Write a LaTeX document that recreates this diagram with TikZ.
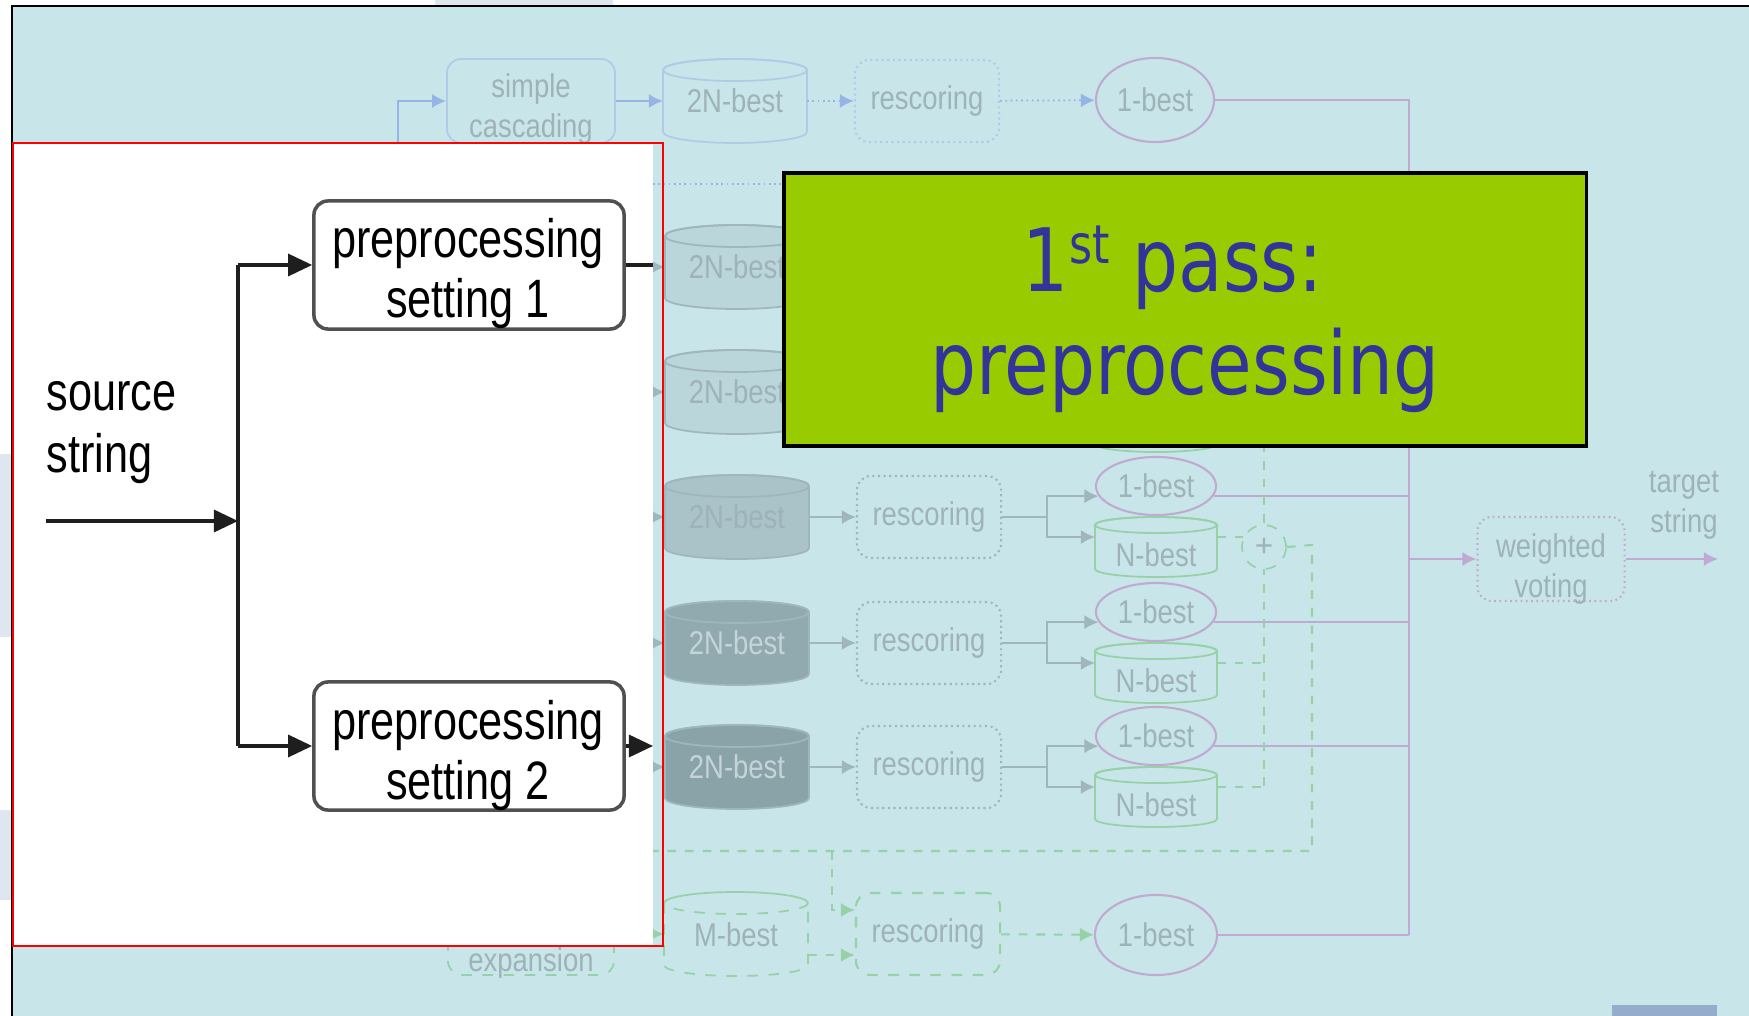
\documentclass[tikz,border=0pt]{standalone}
\usepackage{fontspec}
\setmainfont{Liberation Sans}
\newfontfamily\dejavu{DejaVu Sans}
\usepackage{graphicx}
\usetikzlibrary{arrows.meta,calc,shapes.geometric}
\definecolor{bgc}{RGB}{200,230,233}
\definecolor{fadetxt}{RGB}{158,178,183}
\definecolor{fadelt}{RGB}{196,212,216}
\definecolor{fadegrey}{RGB}{160,182,188}
\definecolor{fadeblue}{RGB}{150,180,230}
\definecolor{fadeblueb}{RGB}{176,203,232}
\definecolor{fadepurp}{RGB}{192,170,210}
\definecolor{fadegreen}{RGB}{150,210,165}
\definecolor{cylA}{RGB}{186,214,219}
\definecolor{cylB}{RGB}{170,195,200}
\definecolor{cylC}{RGB}{145,170,175}
\definecolor{cylD}{RGB}{138,163,168}
\definecolor{gbox}{RGB}{153,204,0}
\definecolor{gtext}{RGB}{51,51,153}
\definecolor{patch}{RGB}{222,230,240}
\definecolor{bcol}{RGB}{30,30,30}
\definecolor{pborder}{RGB}{80,80,80}
\definecolor{stripc}{RGB}{150,172,205}
\newcommand\vs[1]{\scalebox{1}[1.2]{#1}}
\newcommand\bs[1]{\scalebox{1}[1.25]{#1}}
% cylinder: name, cx, cy, half width, half height, ellipse ry, style
\newcommand\cyl[7]{%
  \path[#7] (#2-#4,#3-#5+#6) -- (#2-#4,#3+#5-#6)
     arc[start angle=180,end angle=0,x radius=#4,y radius=#6]
     -- (#2+#4,#3-#5+#6)
     arc[start angle=0,end angle=-180,x radius=#4,y radius=#6] -- cycle;
  \path[#7,fill=none] (#2,#3-#5+#6) ellipse[x radius=#4,y radius=#6];
  \node[inner sep=0,outer sep=0,minimum width={#4*0.02cm},minimum height={#5*0.02cm}] (#1) at (#2,#3) {};
}
\begin{document}
\begin{tikzpicture}[x=0.01cm,y=-0.01cm,
  fadetext/.style={text=fadetxt,font=\fontsize{7.8}{11.5}\selectfont,inner sep=0,align=center},
  fadebox/.style={fadetext,rounded corners=4pt,line width=0.5pt},
  resbox/.style={fadetext,draw=fadegrey,densely dotted,rounded corners=4pt,line width=0.6pt,minimum width=1.44cm,minimum height=0.82cm},
  bestell/.style={fadetext,ellipse,draw=fadepurp,line width=0.6pt},
  fadearrow/.style={draw=fadegrey,line width=0.5pt,-{Latex[length=4pt,width=4pt]}},
  fadeline/.style={draw=fadegrey,line width=0.5pt},
  bluearrow/.style={draw=fadeblue,line width=0.5pt,-{Latex[length=4pt,width=4pt]}},
  purpline/.style={draw=fadepurp,line width=0.6pt},
  purparrow/.style={draw=fadepurp,line width=0.6pt,-{Latex[length=4pt,width=4pt]}},
  gdash/.style={draw=fadegreen,line width=0.6pt,dash pattern=on 2.5pt off 2.5pt},
  garrow/.style={gdash,-{Latex[length=4pt,width=4pt]}},
  pbox/.style={draw=pborder,line width=1pt,rounded corners=4pt,fill=white,inner sep=0,minimum width=3.1cm,minimum height=1.28cm},
  btext/.style={inner sep=0,font=\fontsize{12.3}{14}\selectfont,text=black},
  bline/.style={draw=bcol,line width=0.9pt},
  barrow/.style={bline,-{Triangle[length=0.24cm,width=0.22cm]}}]
\useasboundingbox (0,0) rectangle (1749,1016);
% page background
\fill[white] (0,0) rectangle (1749,1016);
\fill[patch] (435,0) rectangle (613,6);
\fill[patch] (0,454) rectangle (11,637);
\fill[patch] (0,810) rectangle (11,900);
\fill[bgc] (12,6) rectangle (1749,1016);

% ---------- faded diagram ----------
\coordinate (vtop) at (1409,100);
\coordinate (vbot) at (1409,935);
\coordinate (tin) at (398,170);
\node[fadebox,draw=fadeblueb,minimum width=1.68cm,minimum height=0.84cm] (sc) at (531,101) {};
\node[fadetext] (sct) at (531,109) {\vs{simple}\\\vs{cascading}};
\cyl{tc}{735}{101}{72}{42}{11}{draw=fadeblueb,fill=bgc,line width=0.5pt}
\node[fadetext] (tct) at (735,101) {\vs{2N-best}};
\node[resbox,draw=fadeblueb] (tr) at (927,101) {\vs{rescoring}};
\node[bestell,minimum width=1.18cm,minimum height=0.84cm] (to) at (1155,100) {\vs{1-best}};
\draw[bluearrow] (tin) |- (sc.west);
\draw[bluearrow] (sc) -- (tc);
\draw[bluearrow,densely dotted] (tc) -- (tr);
\draw[bluearrow,densely dotted] (tr) -- (to);
\draw[purpline] (to) -- (vtop) -- (vbot);
\coordinate (bl1) at (600,184);
\coordinate (bl2) at (800,184);
\draw[fadeblue,densely dotted,line width=0.5pt] (bl1) -- (bl2);

% rows 2 and 3 (mostly hidden behind the title box)
\foreach \cy [count=\i from 2] in {267,392}{
  \cyl{c\i}{737}{\cy}{72}{42}{11}{draw=fadegrey,fill=cylA,line width=0.5pt}
  \node[fadetext] (ct\i) at (737,\cy) {\vs{2N-best}};
  \coordinate (in\i) at (600,\cy);
  \draw[fadearrow] (in\i) -- (c\i);
}
\cyl{n3}{1156}{422}{61}{30}{8}{draw=fadegreen,fill=bgc,line width=0.5pt}

% rows 4 to 6
\foreach \cy/\cf/\tc [count=\i from 4] in {517/cylB/fadetxt,643/cylC/fadelt,767/cylD/fadelt}{
  \cyl{c\i}{737}{\cy}{72}{42}{11}{draw=fadegrey,fill=\cf,line width=0.5pt}
  \node[fadetext,text=\tc] (ct\i) at (737,\cy) {\vs{2N-best}};
  \node[resbox] (r\i) at (929,\cy) {\vs{rescoring}};
  \node[bestell,minimum width=1.2cm,minimum height=0.58cm] (o\i) at (1156,\cy-31) {\vs{1-best}};
  \cyl{n\i}{1156}{\cy+30}{61}{30}{8}{draw=fadegreen,fill=bgc,line width=0.5pt}
  \node[fadetext] (nt\i) at (1156,\cy+38) {\vs{N-best}};
  \coordinate (in\i) at (600,\cy);
  \coordinate (b\i) at (1047,\cy);
  \draw[fadearrow] (in\i) -- (c\i);
  \draw[fadearrow] (c\i) -- (r\i);
  \draw[fadeline] (r\i) -- (b\i);
  \draw[fadearrow] (b\i) |- (o\i.190);
  \draw[fadearrow] (b\i) |- ($(n\i.west)+(0,-10)$);
  \draw[purpline] (o\i.350) -- (o\i.350 -| vtop);
  \draw[gdash] ($(n\i.east)+(0,-10)$) -- ($(n\i.east)+(47,-10)$);
}
% combination lines
\coordinate (gv1a) at (1264,250);
\coordinate (gv1b) at (1264,788);
\draw[gdash] (gv1a) -- (gv1b);
\node[circle,draw=fadegreen,dashed,line width=0.5pt,fill=bgc,minimum size=0.44cm,inner sep=0,text=fadetxt,font=\fontsize{9}{9}\selectfont] (plus) at (1264,547) {+};
\coordinate (gv2a) at (1312,545);
\coordinate (gv2b) at (1312,851);
\coordinate (gh) at (832,851);
\coordinate (ghl) at (640,851);
\draw[gdash] (plus.east) -- (gv2a) -- (gv2b) -- (ghl);

% bottom row
\node[fadebox,draw=fadegreen,dashed,minimum width=1.66cm,minimum height=1.0cm] (ex) at (531,925) {};
\node[fadetext] (ext) at (531,963) {\vs{expansion}};
\cyl{mb}{736}{934}{72}{42}{11}{draw=fadegreen,dashed,fill=bgc,line width=0.5pt}
\node[fadetext] (mbt) at (736,935) {\vs{M-best}};
\node[resbox,draw=fadegreen,dashed] (br) at (928,934) {\vs{rescoring}};
\node[bestell,minimum width=1.22cm,minimum height=0.80cm] (bo) at (1156,935) {\vs{1-best}};
\coordinate (bin) at (600,934);
\draw[garrow] (bin) -- (mb);
\draw[garrow] ($(mb.east)+(0,21)$) -- ($(br.west)+(0,21)$);
\draw[garrow] (gh) |- ($(br.west)+(0,-24)$);
\draw[garrow] (br) -- (bo);
\draw[purpline] (bo) -- (vbot);

% voting
\node[fadebox,draw=fadepurp,densely dotted,line width=0.6pt,minimum width=1.47cm,minimum height=0.84cm] (wv) at (1551,559) {};
\node[fadetext] (wvt) at (1551,569) {\vs{weighted}\\\vs{voting}};
\coordinate (out) at (1718,559);
\draw[purparrow] (wv.west -| vtop) -- (wv.west);
\draw[purparrow] (wv) -- (out);
\node[fadetext] (tgt) at (1684,505) {\vs{target}\\\vs{string}};

% ---------- frame ----------
\draw[black,line width=0.7pt] (12,1016) -- (12,6) -- (1749,6);

% ---------- white panel ----------
\fill[white] (13,143) rectangle (653,946);
\draw[red,line width=0.6pt] (13,143) rectangle (663,946);

\node[pbox] (p1) at (469,265) {};
\node[pbox] (p2) at (469,746) {};
\node[btext,anchor=base] (p1a) at (468,258) {\bs{preprocessing}};
\node[btext,anchor=base] (p1b) at (468,318) {\bs{setting 1}};
\node[btext,anchor=base] (p2a) at (468,739) {\bs{preprocessing}};
\node[btext,anchor=base] (p2b) at (468,799) {\bs{setting 2}};
\node[btext,anchor=base west] (src1) at (46,411) {\bs{source}};
\node[btext,anchor=base west] (src2) at (46,473) {\bs{string}};
\coordinate (srcin) at (46,521);
\coordinate (split) at (238,521);
\coordinate (r1) at (653,265);
\coordinate (r2) at (653,746);
\draw[barrow] (srcin) -- (split);
\draw[bline] (split |- p1.west) -- (split |- p2.west);
\draw[barrow] (split |- p1.west) -- (p1.west);
\draw[barrow] (split |- p2.west) -- (p2.west);
\draw[bline] (p1.east) -- (r1);
\draw[barrow] (p2.east) -- (r2);

% ---------- green title box ----------
\node[draw=black,line width=1pt,fill=gbox,minimum width=8.02cm,minimum height=2.73cm,inner sep=0] (gb) at (1185,309.5) {};
\node[anchor=base,text=gtext,inner sep=0] (g1) at (1173,292) {\scalebox{0.87}[1.05]{\dejavu\fontsize{23.7}{28}\selectfont 1\raisebox{7.7pt}{\fontsize{14.5}{15}\selectfont st} pass:}};
\node[anchor=base,text=gtext,inner sep=0] (g2) at (1185,395) {\scalebox{0.87}[1.05]{\dejavu\fontsize{23.7}{28}\selectfont preprocessing}};

% corner strip
\fill[stripc] (1612,1005) rectangle (1717,1016);
\end{tikzpicture}
\end{document}
